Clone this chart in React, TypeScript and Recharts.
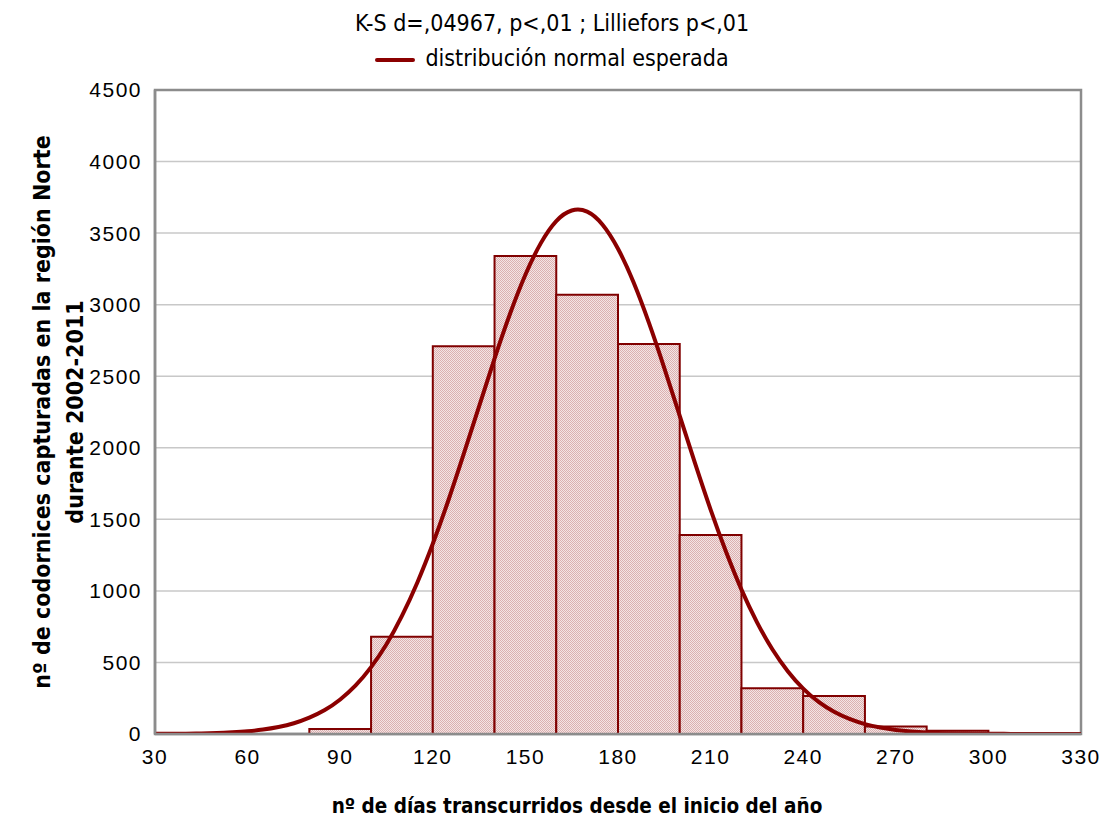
import React from "react";
import {
  ComposedChart,
  Line,
  XAxis,
  YAxis,
  CartesianGrid,
  ReferenceArea,
  Legend,
} from "recharts";

// histogram bins (days since start of year) and counts
const binStarts = [30, 40, 50, 60, 70, 80, 100, 120, 140, 160, 180, 200, 220, 240, 260, 280, 300];
const binEnds = [40, 50, 60, 70, 80, 100, 120, 140, 160, 180, 200, 220, 240, 260, 280, 300, 320];
const binCounts = [0, 0, 0, 0, 0, 35, 680, 2710, 3340, 3070, 2725, 1390, 320, 265, 52, 23, 3];

// expected normal curve, every 5 days
const curveDays = [
  30, 35, 40, 45, 50, 55, 60, 65, 70, 75, 80, 85, 90, 95, 100, 105, 110, 115, 120, 125,
  130, 135, 140, 145, 150, 155, 160, 165, 170, 175, 180, 185, 190, 195, 200, 205, 210,
  215, 220, 225, 230, 235, 240, 245, 250, 255, 260, 265, 270, 275, 280, 285, 290, 295,
  300, 305, 310, 315, 320, 325, 330,
];
const curveValues = [
  1, 1, 2, 4, 7, 12, 19, 31, 49, 75, 114, 167, 241, 339, 467, 627, 825, 1059, 1329, 1630,
  1955, 2290, 2623, 2935, 3209, 3430, 3584, 3658, 3650, 3559, 3391, 3158, 2874, 2557, 2223,
  1889, 1568, 1273, 1009, 782, 592, 439, 317, 224, 155, 105, 69, 45, 28, 17, 10, 6, 4, 2,
  1, 1, 0, 0, 0, 0, 0,
];

const xTicks = [30, 60, 90, 120, 150, 180, 210, 240, 270, 300, 330];
const yTicks = [0, 500, 1000, 1500, 2000, 2500, 3000, 3500, 4000, 4500];

const curveData = curveDays.map((d, i) => ({ day: d, normal: curveValues[i] }));

const DARK_RED = "#800000";
const AXIS_GREY = "#8c8c8c";
const TITLE_FONT = "'DejaVu Sans Condensed', 'DejaVu Sans', sans-serif";
const TICK_FONT = "'Liberation Sans', Arial, sans-serif";

const LegendBox = () => (
  <div style={{ textAlign: "center", fontFamily: TITLE_FONT, color: "#000", fontSize: 23 }}>
    <div style={{ lineHeight: "30px" }}>K-S d=,04967, p&lt;,01 ; Lilliefors p&lt;,01</div>
    <div style={{ lineHeight: "30px", marginTop: 5 }}>
      <span
        style={{
          display: "inline-block",
          width: 40,
          height: 4,
          background: "#8b0000",
          verticalAlign: "middle",
          marginRight: 10,
          borderRadius: 2,
        }}
      />
      distribución normal esperada
    </div>
  </div>
);

const YTitle = () => {
  const cy = 412;
  return (
    <text
      transform={`rotate(-90, 58, ${cy})`}
      x={58}
      y={cy}
      textAnchor="middle"
      fontFamily={TITLE_FONT}
      fontWeight="bold"
      fontSize={23}
      fill="#000"
    >
      <tspan x={58} dy={-8}>nº de codornices capturadas en la región Norte</tspan>
      <tspan x={58} dy={33}>durante 2002-2011</tspan>
    </text>
  );
};

const XTitle = () => (
  <text
    x={577}
    y={813}
    textAnchor="middle"
    fontFamily={TITLE_FONT}
    fontWeight="bold"
    fontSize={20.5}
    fill="#000"
  >
    nº de días transcurridos desde el inicio del año
  </text>
);

const tickStyle = { fontSize: 21, fill: "#000", fontFamily: TICK_FONT, letterSpacing: 1.5 };

export default function App() {
  return (
    <div style={{ position: "absolute", left: 0, top: 0, background: "#fff" }}>
      <ComposedChart
        width={1104}
        height={820}
        data={curveData}
        margin={{ top: 90, right: 23, left: 95, bottom: 56 }}
      >
        <defs>
          <pattern id="dither" width="2" height="2" patternUnits="userSpaceOnUse">
            <rect width="2" height="2" fill="#f4e4e4" />
            <rect width="1" height="1" fill="#dbb0b0" />
            <rect x="1" y="1" width="1" height="1" fill="#dbb0b0" />
          </pattern>
        </defs>
        <CartesianGrid vertical={false} stroke="#c8c8c8" strokeWidth={1.5} />
        <XAxis
          dataKey="day"
          type="number"
          domain={[30, 330]}
          ticks={xTicks}
          allowDataOverflow
          tickLine={false}
          tickSize={6}
          tickMargin={9}
          height={30}
          axisLine={{ stroke: AXIS_GREY, strokeWidth: 2.5 }}
          tick={tickStyle}
          label={<XTitle />}
        />
        <YAxis
          type="number"
          domain={[0, 4500]}
          ticks={yTicks}
          allowDataOverflow
          tickLine={false}
          tickSize={6}
          tickMargin={7}
          width={60}
          axisLine={{ stroke: AXIS_GREY, strokeWidth: 2.5 }}
          tick={tickStyle}
          label={<YTitle />}
        />
        <ReferenceArea
          x1={30}
          x2={330}
          y1={0}
          y2={4500}
          fill="none"
          fillOpacity={0}
          stroke={AXIS_GREY}
          strokeWidth={2.5}
        />
        {binCounts.map((c, i) =>
          c > 0 ? (
            <ReferenceArea
              key={i}
              x1={binStarts[i]}
              x2={binEnds[i]}
              y1={0}
              y2={c}
              fill="url(#dither)"
              fillOpacity={1}
              stroke={DARK_RED}
              strokeWidth={2}
            />
          ) : null
        )}
        <Line
          type="natural"
          dataKey="normal"
          name="distribución normal esperada"
          stroke="#8b0000"
          strokeWidth={4}
          dot={false}
          activeDot={false}
          isAnimationActive={false}
        />
        <Legend
          verticalAlign="middle"
          align="center"
          layout="horizontal"
          wrapperStyle={{ top: 8, left: 0, width: 1104 }}
          content={<LegendBox />}
        />
      </ComposedChart>
    </div>
  );
}
